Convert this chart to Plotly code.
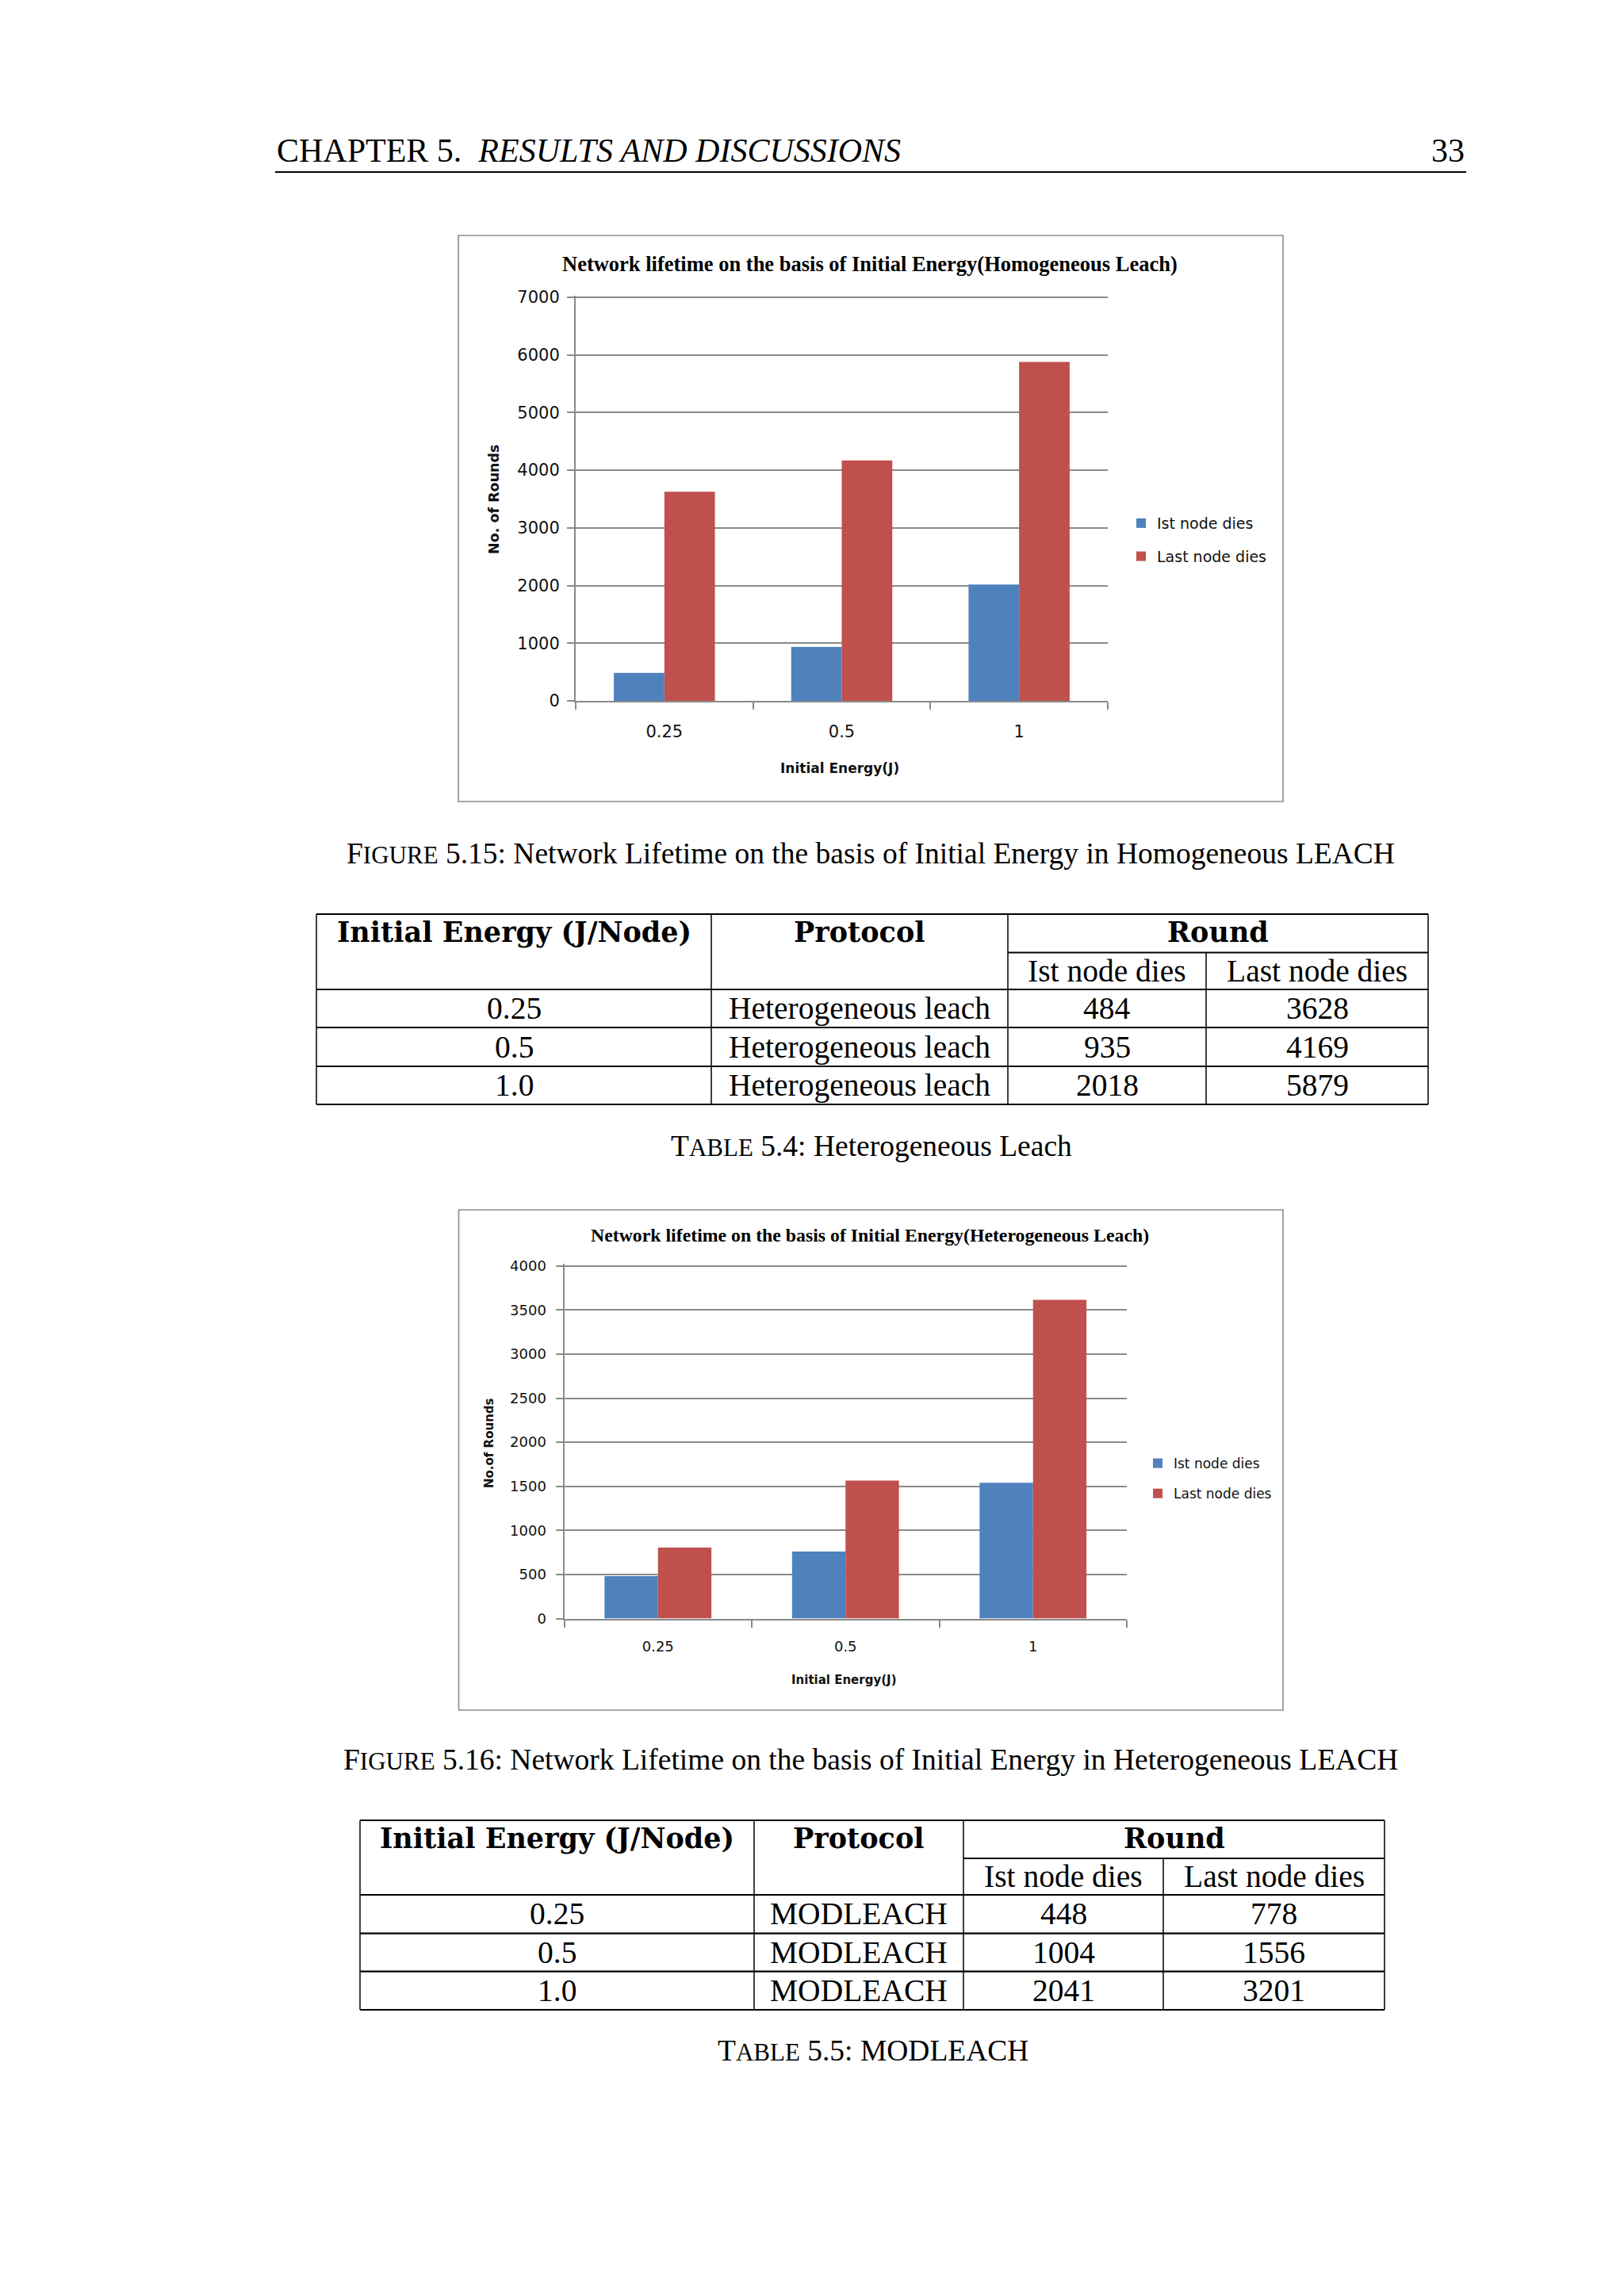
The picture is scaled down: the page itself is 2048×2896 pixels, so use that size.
import plotly.graph_objects as go

W, H = 2048, 2896

# ---------------- data ----------------
energy_cats = ["0.25", "0.5", "1"]
series_names = ["Ist node dies", "Last node dies"]

homo_first = [484, 935, 2018]
homo_last = [3628, 4169, 5879]

hetero_first = [480, 760, 1540]
hetero_last = [805, 1565, 3615]

tbl1_energy = ["0.25", "0.5", "1.0"]
tbl1_protocol = ["Heterogeneous leach", "Heterogeneous leach", "Heterogeneous leach"]
tbl1_first = [484, 935, 2018]
tbl1_last = [3628, 4169, 5879]

tbl2_energy = ["0.25", "0.5", "1.0"]
tbl2_protocol = ["MODLEACH", "MODLEACH", "MODLEACH"]
tbl2_first = [448, 1004, 2041]
tbl2_last = [778, 1556, 3201]

y1_ticks = [0, 1000, 2000, 3000, 4000, 5000, 6000, 7000]
y2_ticks = [0, 500, 1000, 1500, 2000, 2500, 3000, 3500, 4000]

chart1_title = "Network lifetime on the basis of Initial Energy(Homogeneous Leach)"
chart2_title = "Network lifetime on the basis of Initial Energy(Heterogeneous Leach)"

# ---------------- helpers ----------------
def px(x):
    return x / W

def py(y):
    return 1 - y / H

BLUE = "#4F81BD"
RED = "#C0504D"
GRID = "#8a8a8a"
SERIF = "Liberation Serif"
SERIF_B = "DejaVu Serif"
SANS = "DejaVu Sans"

fig = go.Figure()

# chart 1 bars
fig.add_trace(go.Bar(x=energy_cats, y=homo_first, name=series_names[0], marker_color=BLUE,
                     marker_line_width=0, xaxis="x", yaxis="y", legend="legend", legendgroup="a1"))
fig.add_trace(go.Bar(x=energy_cats, y=homo_last, name=series_names[1], marker_color=RED,
                     marker_line_width=0, xaxis="x", yaxis="y", legend="legend", legendgroup="b1"))
# chart 2 bars
fig.add_trace(go.Bar(x=energy_cats, y=hetero_first, name=series_names[0], marker_color=BLUE,
                     marker_line_width=0, xaxis="x2", yaxis="y2", legend="legend2", legendgroup="a2"))
fig.add_trace(go.Bar(x=energy_cats, y=hetero_last, name=series_names[1], marker_color=RED,
                     marker_line_width=0, xaxis="x2", yaxis="y2", legend="legend2", legendgroup="b2"))

def xaxis_cfg(domain, fsize, anchor, standoff):
    return dict(domain=domain, anchor=anchor, type="category", showline=True, linecolor=GRID, linewidth=2,
                ticks="outside", tickson="boundaries", ticklen=9, tickwidth=2, tickcolor=GRID,
                showgrid=False, zeroline=False, tickfont=dict(family=SANS, size=fsize, color="#111"),
                ticklabelstandoff=standoff, fixedrange=True, automargin=False)

def yaxis_cfg(y_zero, y_top, vmax, ticks, fsize, anchor, standoff, pad=2.5):
    # the axis is extended a few pixels above the top tick so plotly keeps its gridline
    per_px = vmax / (y_zero - y_top)
    domain = [py(y_zero), py(y_top - pad)]
    rng = [0, vmax + pad * per_px]
    return dict(domain=domain, anchor=anchor, range=rng, tickvals=ticks, showline=True, linecolor=GRID,
                linewidth=2, ticks="outside", ticklen=9, tickwidth=2, tickcolor=GRID, showgrid=True,
                gridcolor=GRID, gridwidth=2, zeroline=False,
                tickfont=dict(family=SANS, size=fsize, color="#111"), ticklabelstandoff=standoff,
                fixedrange=True, automargin=False)

layout = dict(
    width=W, height=H, autosize=False,
    margin=dict(l=0, r=0, t=0, b=0, pad=0, autoexpand=False),
    paper_bgcolor="white", plot_bgcolor="white",
    barmode="group", bargap=0.43, bargroupgap=0,
    xaxis=xaxis_cfg([px(726), px(1397)], 21, "y", 19),
    yaxis=yaxis_cfg(884, 375, y1_ticks[-1], y1_ticks, 21, "x", 5),
    xaxis2=xaxis_cfg([px(711.5), px(1421)], 18, "y2", 18),
    yaxis2=yaxis_cfg(2041.5, 1596.7, y2_ticks[-1], y2_ticks, 18, "x2", 8),
    legend=dict(x=px(1419), y=py(641), xanchor="left", yanchor="top", traceorder="grouped",
                tracegroupgap=14, font=dict(family=SANS, size=19, color="#111"),
                bgcolor="rgba(0,0,0,0)", borderwidth=0, itemclick=False),
    legend2=dict(x=px(1440), y=py(1828), xanchor="left", yanchor="top", traceorder="grouped",
                 tracegroupgap=13, font=dict(family=SANS, size=17, color="#111"),
                 bgcolor="rgba(0,0,0,0)", borderwidth=0, itemclick=False),
    showlegend=True,
)
fig.update_layout(**layout)

shapes = []
annotations = []

def text(x, y, s, size, family=SERIF, bold=False, xanchor="center", yanchor="middle", angle=0, color="#000"):
    annotations.append(dict(xref="paper", yref="paper", x=px(x), y=py(y), text=("<b>%s</b>" % s) if bold else s,
                            showarrow=False, xanchor=xanchor, yanchor=yanchor, textangle=angle,
                            font=dict(family=family, size=size, color=color)))

def line(x0, y0, x1, y1, w=2, color="#000"):
    shapes.append(dict(type="line", xref="paper", yref="paper", x0=px(x0), y0=py(y0), x1=px(x1), y1=py(y1),
                       line=dict(color=color, width=w)))

# ---------------- page header ----------------
text(347, 190, "CHAPTER 5.  <i>RESULTS AND DISCUSSIONS</i>", 42, xanchor="left")
text(1849, 190, "33", 42, xanchor="right")
line(347, 217, 1849, 217, 1.8)

# ---------------- chart frames & chart texts ----------------
shapes.append(dict(type="rect", xref="paper", yref="paper", x0=px(578), y0=py(1011), x1=px(1618), y1=py(297),
                   line=dict(color="#8c8c8c", width=1.6)))
shapes.append(dict(type="rect", xref="paper", yref="paper", x0=px(578.5), y0=py(2157), x1=px(1618), y1=py(1526),
                   line=dict(color="#8c8c8c", width=1.6)))

text(1097, 333, chart1_title, 26.5, bold=True)
text(1059, 969, "Initial Energy(J)", 17, family=SANS, bold=True, color="#111")
text(623, 630, "No. of Rounds", 17.5, family=SANS, bold=True, angle=-90, color="#111")

text(1097, 1558, chart2_title, 23.8, bold=True)
text(1064, 2119, "Initial Energy(J)", 15, family=SANS, bold=True, color="#111")
text(617, 1820, "No.of Rounds", 15, family=SANS, bold=True, angle=-90, color="#111")

# ---------------- captions ----------------
SC = "<span style='font-size:31px'>%s</span>"
CAP = 37.5
text(1098, 1076, "F" + SC % "IGURE" + " 5.15: Network Lifetime on the basis of Initial Energy in Homogeneous LEACH", CAP)
text(1099, 1445, "T" + SC % "ABLE" + " 5.4: Heterogeneous Leach", CAP)
text(1098, 2219, "F" + SC % "IGURE" + " 5.16: Network Lifetime on the basis of Initial Energy in Heterogeneous LEACH", CAP)
text(1101, 2586, "T" + SC % "ABLE" + " 5.5: MODLEACH", CAP)

# ---------------- tables ----------------
TB = 39.5   # body font
TH = 35     # bold header font

def draw_table(xb, yb, energy, protocol, first, last):
    # xb: 5 column x boundaries; yb: [top, sub, header_bottom, r1, r2, bottom]
    top, sub, hb = yb[0], yb[1], yb[2]
    bottom = yb[-1]
    line(xb[0], top, xb[4], top, 2.2)
    line(xb[2], sub, xb[4], sub, 1.8)
    for yy in yb[2:]:
        line(xb[0], yy, xb[4], yy, 2.2)
    for xx in (xb[0], xb[1], xb[2], xb[4]):
        line(xx, top, xx, bottom, 1.5)
    line(xb[3], sub, xb[3], bottom, 1.5)
    hy = (top + sub) / 2 - 2
    sy = (sub + hb) / 2
    text((xb[0] + xb[1]) / 2, hy, "Initial Energy (J/Node)", TH, family=SERIF_B, bold=True)
    text((xb[1] + xb[2]) / 2, hy, "Protocol", TH, family=SERIF_B, bold=True)
    text((xb[2] + xb[4]) / 2, hy, "Round", TH, family=SERIF_B, bold=True)
    text((xb[2] + xb[3]) / 2, sy, series_names[0], TB)
    text((xb[3] + xb[4]) / 2, sy, series_names[1], TB)
    rows = yb[2:]
    for i in range(len(energy)):
        cy = (rows[i] + rows[i + 1]) / 2
        text((xb[0] + xb[1]) / 2, cy, energy[i], TB)
        text((xb[1] + xb[2]) / 2, cy, protocol[i], TB)
        text((xb[2] + xb[3]) / 2, cy, str(first[i]), TB)
        text((xb[3] + xb[4]) / 2, cy, str(last[i]), TB)

draw_table([399, 897, 1271, 1521, 1801], [1153, 1201.5, 1248, 1296, 1345, 1393],
           tbl1_energy, tbl1_protocol, tbl1_first, tbl1_last)
draw_table([454, 951, 1215, 1467, 1746], [2296, 2344, 2390, 2438.7, 2486.7, 2535],
           tbl2_energy, tbl2_protocol, tbl2_first, tbl2_last)

fig.update_layout(shapes=shapes, annotations=annotations)

# remove the browser's default 8px body margin so the page coincides with the figure
fig.write_html("out.html", config={"displayModeBar": False},
               post_script="document.body.style.margin='0';")
